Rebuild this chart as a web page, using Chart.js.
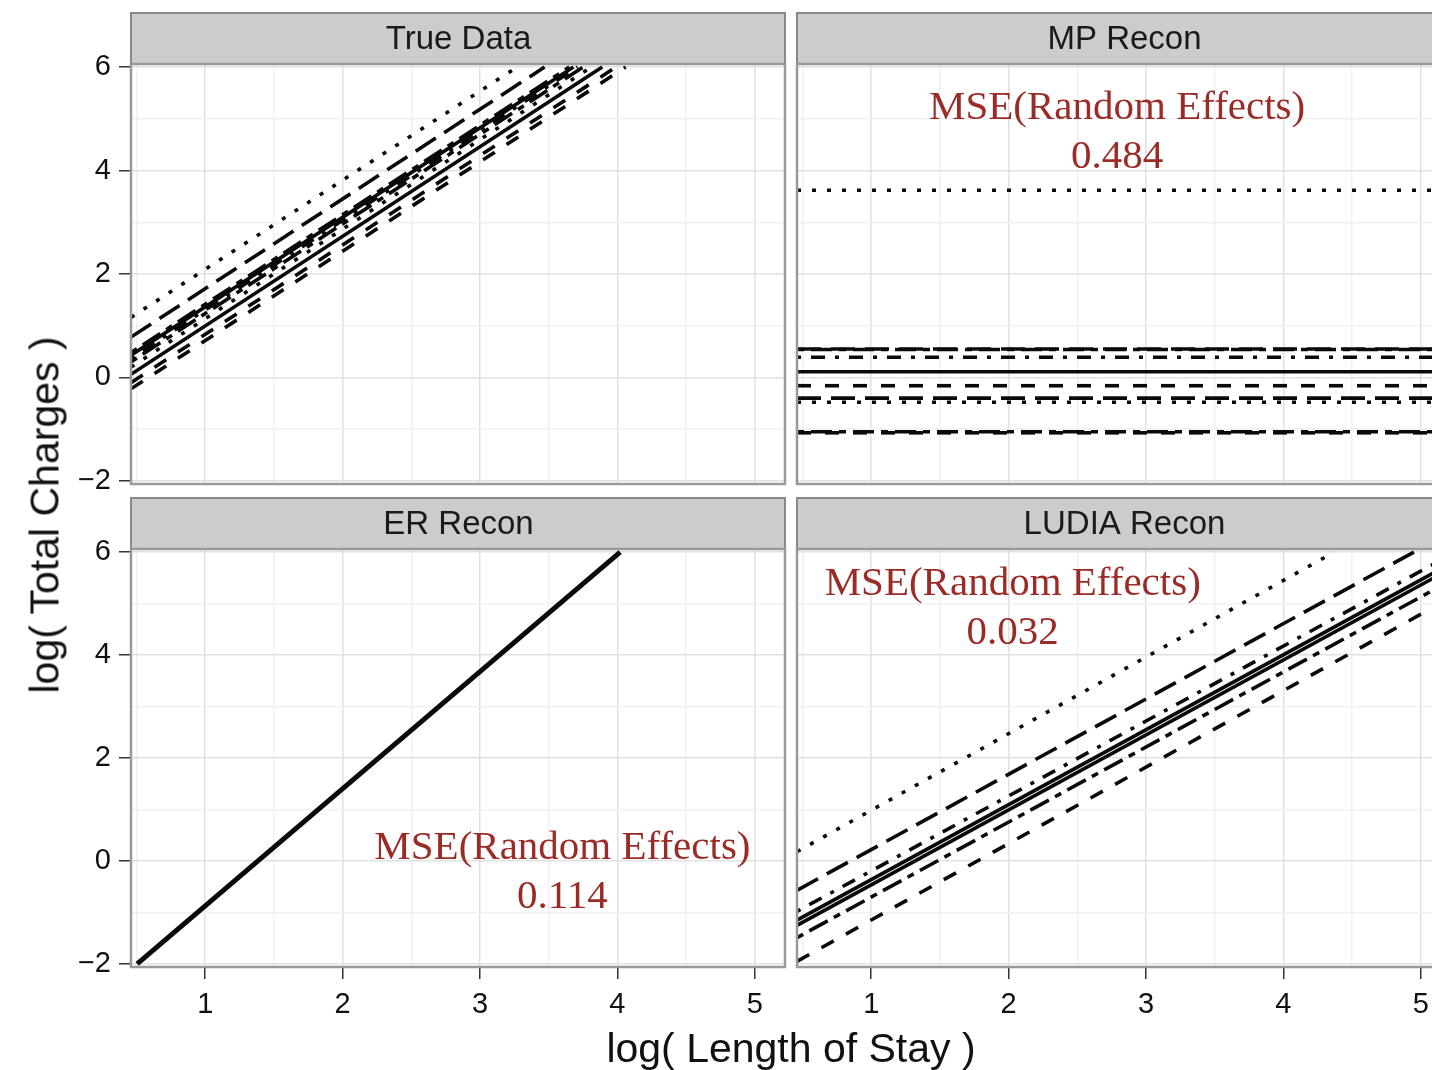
<!DOCTYPE html>
<html>
<head>
<meta charset="utf-8">
<title>Random effects reconstruction</title>
<script src="https://cdn.jsdelivr.net/npm/chart.js@4.4.1/dist/chart.umd.min.js"></script>
<style>
  body { margin: 0; width: 1432px; height: 1070px; overflow: hidden; background: #fff; position: relative; font-family: "Liberation Sans", Arial, sans-serif; }
  canvas { position: absolute; }
  .axis-title { position: absolute; font-size: 41px; color: #111; white-space: nowrap; transform: translate(-50%, -50%); }
</style>
</head>
<body>
<canvas id="true_data_chart" width="788" height="489" style="left:0;top:11px"></canvas>
<canvas id="mp_chart" width="660" height="489" style="left:794px;top:11px"></canvas>
<canvas id="er_chart" width="788" height="541" style="left:0;top:496px"></canvas>
<canvas id="ludia_chart" width="660" height="541" style="left:794px;top:496px"></canvas>
<div class="axis-title" style="left:45px;top:515px;transform:translate(-50%,-50%) rotate(-90deg)">log( Total Charges )</div>
<div class="axis-title" style="left:791px;top:1048px">log( Length of Stay )</div>
<script>
// Axes (same in every facet)

const xMin = 0.46, xMax = 5.22;
const yMin = -2.06, yMax = 6.06;
const xTicks = [0.5, 1, 1.5, 2, 2.5, 3, 3.5, 4, 4.5, 5];
const xMajor = [1, 2, 3, 4, 5];
const yTicks = [-2, -1, 0, 1, 2, 3, 4, 5, 6];
const yMajor = [-2, 0, 2, 4, 6];

// True Data: y at the left edge, x where each line leaves through the top (y = 6)
const trueTypes  = ['dotted', 'longdash', 'twodash', 'solid', 'dotdash', 'twodash', 'dotted', 'solid', 'dashed', 'dashed'];
const trueStartY = [1.16, 0.78, 0.48, 0.43, 0.37, 0.30, 0.20, 0.06, -0.10, -0.22];
const trueEndX   = [3.27, 3.47, 3.65, 3.68, 3.71, 3.75, 3.81, 3.89, 3.99, 4.06];

// MP Recon: flat lines
const mpTypes  = ['dotted', 'longdash', 'twodash', 'dotdash', 'solid', 'dashed', 'longdash', 'dotted', 'twodash', 'dashed'];
const mpLevels = [3.62, 0.55, 0.54, 0.39, 0.11, -0.16, -0.40, -0.48, -1.05, -1.07];

// ER Recon: every group on the same line
const erStart = [0.505, -2];
const erEnd   = [4.02, 6];

// LUDIA Recon: y at the left edge, end point at the top or right edge
const ludiaTypes  = ['dotted', 'longdash', 'dotdash', 'solid', 'solid', 'twodash', 'dashed'];
const ludiaStartY = [0.18, -0.57, -0.98, -1.15, -1.25, -1.49, -1.95];
const ludiaEndX   = [4.37, 4.95, 5.22, 5.22, 5.22, 5.22, 5.22];
const ludiaEndY   = [6, 6, 5.95, 5.78, 5.68, 5.45, 5.12];

// MSE annotations
const mpMse    = { x: 2.79, y1: 5.20, y2: 4.25, value: '0.484' };
const erMse    = { x: 3.60, y1: 0.25, y2: -0.70, value: '0.114' };
const ludiaMse = { x: 2.03, y1: 5.38, y2: 4.43, value: '0.032' };

// Line styles

const dashes = {
    solid: [],
    dashed: [14, 14],
    dotted: [4, 11],
    dotdash: [4, 10, 14, 10],
    longdash: [24, 10],
    twodash: [7, 7, 21, 7]
};

function line(points, type, width) {
    return {
        data: points.map(p => ({ x: p[0], y: p[1] })),
        showLine: true,
        pointRadius: 0,
        borderColor: '#0a0a0a',
        backgroundColor: '#0a0a0a',
        borderWidth: width || 3.6,
        borderDash: dashes[type],
        fill: false
    };
}

function fmt(v) {
    return v < 0 ? '\u2212' + Math.abs(v) : String(v);
}

// Strip, panel border, annotation text

const facetPlugin = {
    id: 'facet',
    beforeDraw(chart, args, opts) {
        const ctx = chart.ctx, a = chart.chartArea;
        ctx.save();
        ctx.fillStyle = '#cccccc';
        ctx.fillRect(a.left, a.top - 51, a.right - a.left, 51);
        ctx.strokeStyle = '#888';
        ctx.lineWidth = 2;
        ctx.strokeRect(a.left, a.top - 51, a.right - a.left, 51);
        ctx.fillStyle = '#1a1a1a';
        ctx.font = '33px "Liberation Sans", Arial, sans-serif';
        ctx.textAlign = 'center';
        ctx.textBaseline = 'middle';
        ctx.fillText(opts.title, 661 / 2 + a.left - 3, a.top - 24);
        ctx.restore();
    },
    afterDatasetsDraw(chart, args, opts) {
        const ctx = chart.ctx, a = chart.chartArea;
        const x = chart.scales.x, y = chart.scales.y;
        ctx.save();
        if (opts.mse) {
            ctx.fillStyle = '#9b2b26';
            ctx.font = '41px "Liberation Serif", "Times New Roman", serif';
            ctx.textAlign = 'center';
            ctx.textBaseline = 'middle';
            const px = x.getPixelForValue(opts.mse.x);
            ctx.fillText('MSE(Random Effects)', px, y.getPixelForValue(opts.mse.y1));
            ctx.fillText(opts.mse.value, px, y.getPixelForValue(opts.mse.y2));
        }
        ctx.strokeStyle = '#999';
        ctx.lineWidth = 2.5;
        ctx.strokeRect(a.left, a.top, a.right - a.left, a.bottom - a.top);
        ctx.restore();
    }
};

function makeChart(id, datasets, cfg) {
    const tickFont = { family: '"Liberation Sans", Arial, sans-serif', size: 29 };
    return new Chart(document.getElementById(id), {
        type: 'scatter',
        data: { datasets: datasets },
        plugins: [facetPlugin],
        options: {
            responsive: false,
            animation: false,
            layout: { padding: { top: 53, left: cfg.showY ? 0 : 3, right: 3, bottom: cfg.showX ? 0 : 16 } },
            plugins: {
                legend: { display: false },
                tooltip: { enabled: false },
                facet: { title: cfg.title, mse: cfg.mse }
            },
            scales: {
                x: {
                    type: 'linear',
                    min: xMin,
                    max: xMax,
                    afterBuildTicks: s => { s.ticks = xTicks.map(v => ({ value: v })); },
                    afterFit: s => { s.height = cfg.showX ? 70 : 0; s.paddingLeft = 0; s.paddingRight = 0; },
                    border: { display: false },
                    grid: {
                        color: c => (c.tick && xMajor.includes(c.tick.value)) ? '#e1e1e1' : '#f1f1f1',
                        lineWidth: 1.5,
                        drawTicks: cfg.showX,
                        tickLength: 12,
                        tickWidth: 1.5,
                        tickColor: c => (c.tick && xMajor.includes(c.tick.value)) ? '#333' : 'rgba(0,0,0,0)'
                    },
                    ticks: {
                        display: cfg.showX,
                        autoSkip: false,
                        maxRotation: 0,
                        padding: 9,
                        color: '#111',
                        font: tickFont,
                        callback: v => xMajor.includes(v) ? fmt(v) : ''
                    }
                },
                y: {
                    type: 'linear',
                    min: yMin,
                    max: yMax,
                    afterBuildTicks: s => { s.ticks = yTicks.map(v => ({ value: v })); },
                    afterFit: s => { s.width = cfg.showY ? 131 : 0; s.paddingTop = 0; s.paddingBottom = 0; },
                    border: { display: false },
                    grid: {
                        color: c => (c.tick && yMajor.includes(c.tick.value)) ? '#e1e1e1' : '#f1f1f1',
                        lineWidth: 1.5,
                        drawTicks: cfg.showY,
                        tickLength: 12,
                        tickWidth: 1.5,
                        tickColor: c => (c.tick && yMajor.includes(c.tick.value)) ? '#333' : 'rgba(0,0,0,0)'
                    },
                    ticks: {
                        display: cfg.showY,
                        autoSkip: false,
                        padding: 8,
                        color: '#111',
                        font: tickFont,
                        callback: v => yMajor.includes(v) ? fmt(v) : ''
                    }
                }
            }
        }
    });
}

// Charts

const trueSets = trueTypes.map((t, i) => line([[xMin, trueStartY[i]], [trueEndX[i], 6]], t));
const mpSets = mpTypes.map((t, i) => line([[xMin, mpLevels[i]], [xMax, mpLevels[i]]], t));
const erSets = [line([erStart, erEnd], 'solid', 5)];
const ludiaSets = ludiaTypes.map((t, i) => line([[xMin, ludiaStartY[i]], [ludiaEndX[i], ludiaEndY[i]]], t));

const true_data_chart = makeChart('true_data_chart', trueSets, { title: 'True Data', showX: false, showY: true });
const mp_chart = makeChart('mp_chart', mpSets, { title: 'MP Recon', showX: false, showY: false, mse: mpMse });
const er_chart = makeChart('er_chart', erSets, { title: 'ER Recon', showX: true, showY: true, mse: erMse });
const ludia_chart = makeChart('ludia_chart', ludiaSets, { title: 'LUDIA Recon', showX: true, showY: false, mse: ludiaMse });
</script>
</body>
</html>
